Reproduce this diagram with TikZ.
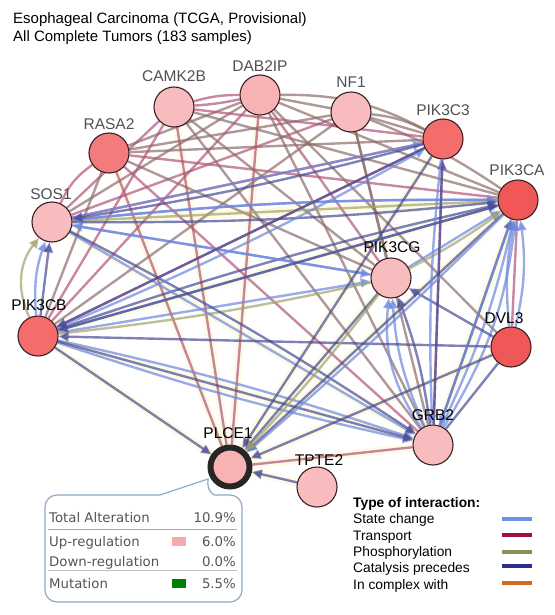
\documentclass[tikz,border=0pt]{standalone}
\usepackage{fontspec}
\setmainfont{Liberation Sans}
\newfontfamily\verd{DejaVu Sans}
\usetikzlibrary{arrows.meta}
\pgfdeclarelayer{glow}
\pgfdeclarelayer{edges}
\pgfsetlayers{glow,edges,main}
\definecolor{cTR}{HTML}{B0557A}
\definecolor{cCX}{HTML}{8C6E69}
\definecolor{cSC}{HTML}{6E88DD}
\definecolor{cCA}{HTML}{464B96}
\definecolor{cPH}{HTML}{A2A36C}
\definecolor{lgSC}{HTML}{6F8FE6}
\definecolor{lgTR}{HTML}{A0103A}
\definecolor{lgPH}{HTML}{8C8F5A}
\definecolor{lgCA}{HTML}{2B2F8E}
\definecolor{lgCX}{HTML}{D2691E}
\definecolor{nPale}{HTML}{F9BCBE}
\definecolor{nPink}{HTML}{F8B2B4}
\definecolor{nMid}{HTML}{F27B7D}
\definecolor{nRed}{HTML}{F46C6C}
\definecolor{nDeep}{HTML}{F05858}
\definecolor{nBord}{HTML}{3A2020}
\definecolor{lblGray}{HTML}{505050}
\definecolor{txtGray}{HTML}{555555}
\definecolor{boxBlue}{HTML}{8EA8C8}
\definecolor{upPink}{HTML}{F4A9AB}
\definecolor{mutGreen}{HTML}{008000}
\definecolor{glowY}{HTML}{FBF5C8}
\begin{document}
\begin{tikzpicture}[x=1pt,y=-1pt,
  gene/.style={circle,draw=nBord,line width=1.1pt,minimum size=40pt,inner sep=0pt},
  glab/.style={font=\fontsize{15.5}{16}\selectfont},
  glabg/.style={glab,text=lblGray},
  edg/.style={line width=2.4pt,opacity=0.7},
  eTR/.style={edg,draw=cTR},
  eCX/.style={edg,draw=cCX},
  eSC/.style={edg,draw=cSC},
  eCA/.style={edg,draw=cCA},
  ePH/.style={edg,draw=cPH},
  arr/.style={-{Triangle[length=10pt,width=9pt]}},
  gl/.style={line width=8pt,draw=glowY,opacity=0.45},
  info/.style={font=\verd\fontsize{13.3}{15}\selectfont,text=txtGray},
  leg/.style={font=\fontsize{13.8}{16}\selectfont,anchor=base west},
  legline/.style={line width=3.5pt}
]
\useasboundingbox (0,0) rectangle (554,615);

% title
\node[anchor=base west,font=\fontsize{15}{18}\selectfont,inner sep=0pt] (t1) at (13,24) {Esophageal Carcinoma (TCGA, Provisional)};
\node[anchor=base west,font=\fontsize{15}{18}\selectfont,inner sep=0pt] (t2) at (13,42) {All Complete Tumors (183 samples)};

% info box with pointer
\draw[boxBlue,line width=1.2pt,fill=white]
  (160,495) [rounded corners=12pt] -- (45,495) -- (45,602) -- (242,602) -- (242,495) [sharp corners] -- (214,495)
  .. controls (209,492) and (207,486) .. (208,479) -- cycle;
\node[info,anchor=base west,inner sep=0pt] (ta) at (49,522) {Total Alteration};
\node[info,anchor=base east,inner sep=0pt] (tav) at (236,522) {10.9\%};
\draw[gray!70,line width=1pt] (48,529) -- (237,529);
\node[info,anchor=base west,inner sep=0pt] (up) at (49,546) {Up-regulation};
\fill[upPink] (172,537) rectangle (186,546);
\node[info,anchor=base east,inner sep=0pt] (upv) at (236,546) {6.0\%};
\node[info,anchor=base west,inner sep=0pt] (dn) at (49,566) {Down-regulation};
\node[info,anchor=base east,inner sep=0pt] (dnv) at (236,566) {0.0\%};
\draw[gray!50,line width=0.8pt] (48,570) -- (237,570);
\node[info,anchor=base west,inner sep=0pt] (mu) at (49,588) {Mutation};
\fill[mutGreen] (172,579) rectangle (186,588);
\node[info,anchor=base east,inner sep=0pt] (muv) at (236,588) {5.5\%};

% legend
\node[leg,font=\bfseries\fontsize{13.8}{16}\selectfont,inner sep=0pt] (lg0) at (353,507) {Type of interaction:};
\node[leg,inner sep=0pt] (lg1) at (353,523) {State change};
\node[leg,inner sep=0pt] (lg2) at (353,540) {Transport};
\node[leg,inner sep=0pt] (lg3) at (353,556) {Phosphorylation};
\node[leg,inner sep=0pt] (lg4) at (353,572) {Catalysis precedes};
\node[leg,inner sep=0pt] (lg5) at (353,589) {In complex with};
\draw[legline,lgSC] (502,519) -- (532,519);
\draw[legline,lgTR] (502,535) -- (532,535);
\draw[legline,lgPH] (502,552) -- (532,552);
\draw[legline,lgCA] (502,566) -- (532,566);
\draw[legline,lgCX] (502,583) -- (532,583);

% genes
\node[gene,fill=nPale] (CAMK2B) at (174,107) {};
\node[gene,fill=nPink] (DAB2IP) at (260,95) {};
\node[gene,fill=nPale] (NF1) at (351,112) {};
\node[gene,fill=nRed] (PIK3C3) at (443,139) {};
\node[gene,fill=nDeep] (PIK3CA) at (518,200) {};
\node[gene,fill=nMid] (RASA2) at (109,153) {};
\node[gene,fill=nPale] (SOS1) at (52,222) {};
\node[gene,fill=nRed] (PIK3CB) at (38,336) {};
\node[gene,fill=nPale] (PIK3CG) at (391,278) {};
\node[gene,fill=nDeep] (DVL3) at (511,347) {};
\node[gene,fill=nPale] (GRB2) at (433,445) {};
\node[gene,fill=nPale] (TPTE2) at (317,487) {};
\node[circle,draw=black!85,line width=6pt,fill=nPink,minimum size=39pt,inner sep=0pt] (PLCE1) at (230,467) {};

% gene labels
\node[glabg] (lCAMK2B) at (174,76) {CAMK2B};
\node[glabg] (lDAB2IP) at (260,66) {DAB2IP};
\node[glabg] (lNF1) at (351,82) {NF1};
\node[glabg] (lPIK3C3) at (443,110) {PIK3C3};
\node[glabg] (lPIK3CA) at (517,170) {PIK3CA};
\node[glabg] (lRASA2) at (109,124) {RASA2};
\node[glabg] (lSOS1) at (51,194) {SOS1};
\node[glab] (lPIK3CB) at (39,305) {PIK3CB};
\node[glab] (lPIK3CG) at (392,247) {PIK3CG};
\node[glab] (lDVL3) at (504,318) {DVL3};
\node[glab] (lGRB2) at (433,415) {GRB2};
\node[glab] (lPLCE1) at (228,433) {PLCE1};
\node[glab] (lTPTE2) at (319,460) {TPTE2};

% glow
\begin{pgfonlayer}{glow}
\foreach \n in {PIK3CB,RASA2,CAMK2B,DAB2IP,PIK3CG,PIK3C3,PIK3CA,DVL3,GRB2,TPTE2}
  \draw[gl] (\n) -- (PLCE1);
\draw[gl] (PIK3CB) -- (GRB2);
\draw[gl] (SOS1) -- (GRB2);
\draw[gl] (PIK3CB) -- (PIK3CA);
\draw[gl] (SOS1) -- (PIK3CA);
\draw[gl] (GRB2) -- (PIK3CA);
\end{pgfonlayer}

% edges
\begin{pgfonlayer}{edges}
\draw[eTR] (CAMK2B) to[bend left=8] (DAB2IP);
\draw[eTR] (CAMK2B) to[bend right=4] (DAB2IP);
\draw[eCX] (DAB2IP) -- (NF1);
\draw[eCX] (DAB2IP) to[bend left=14] (PIK3C3);
\draw[eCX] (NF1) to[bend left=10] (PIK3C3);
\draw[eCX] (NF1) -- (PIK3C3);
\draw[eCX] (NF1) to[bend left=6] (PIK3CA);
\draw[eCX] (DAB2IP) -- (PIK3CA);
\draw[eCX] (RASA2) -- (DAB2IP);
\draw[eCX] (RASA2) -- (NF1);
\draw[eCX] (RASA2) -- (PIK3C3);
\draw[eTR] (RASA2) -- (PIK3CA);
\draw[eTR] (RASA2) to[bend right=15] (SOS1);
\draw[eTR] (SOS1) -- (CAMK2B);
\draw[eCX] (SOS1) -- (DAB2IP);
\draw[eTR] (SOS1) -- (NF1);
\draw[eTR] (SOS1) -- (PIK3C3);
\draw[eCX] (PIK3CB) -- (RASA2);
\draw[eTR] (PIK3CB) -- (CAMK2B);
\draw[eTR] (PIK3CB) -- (DAB2IP);
\draw[eCX] (PIK3CB) -- (NF1);
\draw[eTR] (PIK3CB) -- (PIK3C3);
\draw[eCX] (PIK3CG) -- (CAMK2B);
\draw[eTR] (PIK3CG) -- (DAB2IP);
\draw[eCX] (PIK3CG) -- (NF1);
\draw[eCX] (PIK3CG) -- (RASA2);
\draw[eTR] (PLCE1) -- (CAMK2B);
\draw[eTR] (PLCE1) -- (DAB2IP);
\draw[eTR] (PLCE1) -- (RASA2);
\draw[eCX] (GRB2) -- (NF1);
\draw[eTR] (GRB2) -- (RASA2);
\draw[eTR] (GRB2) -- (PIK3C3);
\draw[eCX] (GRB2) -- (DAB2IP);
\draw[eTR] (PIK3CA) -- (DVL3);
\draw[eTR] (PLCE1) -- (GRB2);
\draw[eCX] (DAB2IP) -- (DVL3);
\draw[eCX] (CAMK2B) -- (PIK3CA);
\draw[eTR] (CAMK2B) -- (PIK3C3);
\draw[eCX] (CAMK2B) -- (GRB2);

\draw[eSC,arr] (PIK3CB) to[bend left=12] (SOS1);
\draw[ePH,arr] (PIK3CB) to[bend left=32] (SOS1);
\draw[eCA,arr] (PIK3CB) -- (SOS1);
\draw[eSC,arr] (SOS1) to[bend left=3] (PIK3CA);
\draw[ePH] (SOS1) -- (PIK3CA);
\draw[eCA,arr] (SOS1) to[bend right=3] (PIK3CA);
\draw[eSC,arr] (PIK3CB) -- (PIK3CA);
\draw[eCA,arr] (PIK3CB) to[bend left=3] (PIK3CA);
\draw[eSC,arr] (SOS1) -- (PIK3CG);
\draw[eSC,arr] (PIK3CB) -- (PIK3CG);
\draw[ePH] (PIK3CB) to[bend right=3] (PIK3CG);
\draw[eSC,arr] (PIK3CB) to[bend left=3] (GRB2);
\draw[eSC,arr] (PIK3CB) to[bend right=3] (GRB2);
\draw[eCA,arr] (PIK3CB) -- (GRB2);
\draw[eSC,arr] (SOS1) -- (GRB2);
\draw[eCA,arr] (SOS1) to[bend left=3] (GRB2);
\draw[eCA,arr] (PIK3CB) -- (PLCE1);
\draw[eSC,arr] (SOS1) -- (PIK3C3);
\draw[eSC,arr] (PIK3CB) to[bend right=3] (PIK3C3);
\draw[eSC,arr] (PIK3CA) to[bend right=3] (SOS1);
\draw[eSC,arr] (PIK3CG) -- (SOS1);
\draw[eCA,arr] (PIK3C3) to[bend left=3] (SOS1);
\draw[eSC,arr] (PIK3CG) -- (PIK3CA);
\draw[ePH,arr] (PIK3CG) to[bend right=4] (PIK3CA);
\draw[eSC,arr] (GRB2) to[bend right=6] (PIK3CA);
\draw[eSC,arr] (GRB2) to[bend right=12] (PIK3CA);
\draw[eCA,arr] (GRB2) -- (PIK3CA);
\draw[eSC,arr] (GRB2) to[bend left=10] (PIK3CG);
\draw[eSC,arr] (GRB2) to[bend left=20] (PIK3CG);
\draw[eCA,arr] (GRB2) to[bend right=6] (PIK3CG);
\draw[eCA,arr] (GRB2) -- (PIK3C3);
\draw[eCA,arr] (DVL3) -- (PIK3CG);
\draw[eCA,arr] (DVL3) -- (PIK3CB);
\draw[eCA,arr] (DVL3) -- (PLCE1);
\draw[eSC,arr] (DVL3) to[bend right=10] (PIK3CA);
\draw[eSC,arr] (DVL3) to[bend left=8] (PIK3CA);
\draw[eCA] (DVL3) -- (GRB2);
\draw[eCA,arr] (TPTE2) -- (PLCE1);
\draw[eCA,arr] (PIK3CA) -- (PLCE1);
\draw[eSC,arr] (PIK3CA) to[bend left=2] (PLCE1);
\draw[eCA,arr] (PIK3C3) -- (PLCE1);
\draw[eCA,arr] (PIK3CG) -- (PLCE1);
\draw[ePH,arr] (PIK3CG) to[bend left=3] (PLCE1);
\draw[eSC,arr] (PIK3CA) -- (GRB2);
\draw[eCA,arr] (PIK3C3) -- (PIK3CB);
\draw[eSC,arr] (PIK3C3) to[bend right=4] (GRB2);
\draw[eCA,arr] (PIK3CA) -- (PIK3CB);
\end{pgfonlayer}
\end{tikzpicture}
\end{document}
